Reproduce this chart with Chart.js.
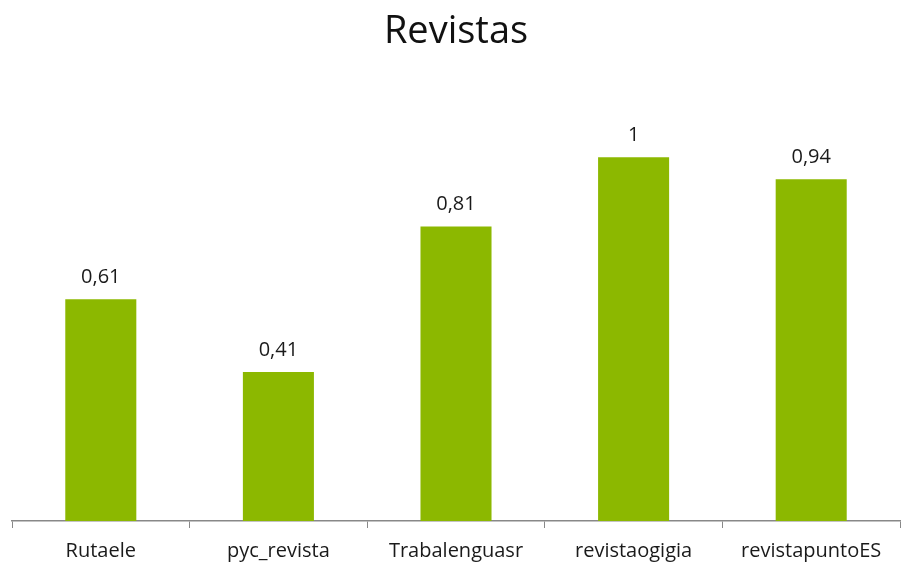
<!DOCTYPE html>
<html>
<head>
<meta charset="utf-8">
<script src="https://cdn.jsdelivr.net/npm/chart.js@4.4.0/dist/chart.umd.min.js"></script>
<style>
  html, body { margin: 0; padding: 0; background: #fff; overflow: hidden; }
  canvas { display: block; }
</style>
</head>
<body>
<canvas id="barChart" width="901" height="574"></canvas>
<script>
// Gegevens van de grafiek
const categories = ['Rutaele', 'pyc_revista', 'Trabalenguasr', 'revistaogigia', 'revistapuntoES'];
const values = [0.61, 0.41, 0.81, 1, 0.94];
const valueLabels = ['0,61', '0,41', '0,81', '1', '0,94'];

// Eigen plugin om de waarden boven de staven te tekenen
const barLabels = {
    id: 'barLabels',
    afterDatasetsDraw(chart) {
        const ctx = chart.ctx;
        const meta = chart.getDatasetMeta(0);
        ctx.save();
        ctx.font = '20px "Open Sans", sans-serif';
        ctx.fillStyle = '#1a1a1a';
        ctx.textAlign = 'center';
        ctx.textBaseline = 'alphabetic';
        meta.data.forEach((bar, i) => {
            ctx.fillText(valueLabels[i], bar.x, bar.y - 16);
        });
        ctx.restore();
    }
};

const ctx = document.getElementById('barChart').getContext('2d');

const barChart = new Chart(ctx, {
    type: 'bar',
    data: {
        labels: categories,
        datasets: [{
            data: values,
            backgroundColor: '#8cb800',
            categoryPercentage: 0.4,
            barPercentage: 1
        }]
    },
    options: {
        responsive: false,
        animation: false,
        layout: {
            padding: { left: 12, right: 1, top: 0, bottom: 0 }
        },
        plugins: {
            legend: { display: false },
            tooltip: { enabled: false },
            title: {
                display: true,
                text: 'Revistas',
                color: '#111',
                font: { family: '"Open Sans", sans-serif', size: 38, weight: 'normal' },
                padding: { top: 9, bottom: 30 }
            }
        },
        scales: {
            x: {
                offset: true,
                grid: {
                    drawOnChartArea: false,
                    drawTicks: true,
                    tickLength: 7,
                    color: '#888',
                    offset: true
                },
                border: { color: '#888', width: 1.5 },
                ticks: {
                    color: '#1a1a1a',
                    font: { family: '"Open Sans", sans-serif', size: 20, lineHeight: 1 },
                    padding: 13
                }
            },
            y: {
                display: false,
                min: 0,
                max: 1.2
            }
        }
    },
    plugins: [barLabels]
});
</script>
</body>
</html>
